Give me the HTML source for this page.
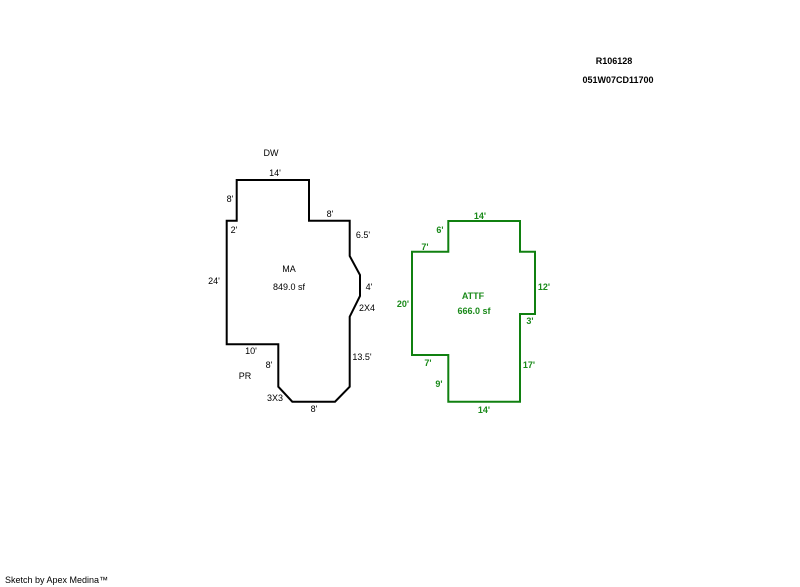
<!DOCTYPE html>
<html><head><meta charset="utf-8"><style>
html,body{margin:0;padding:0;background:#fff;width:800px;height:587px;overflow:hidden}
svg{display:block}
text{font-family:"Liberation Sans",Arial,sans-serif;font-size:9px}
.g{fill:#1a8a1a;font-weight:bold}
.b{font-weight:bold}
</style></head><body>
<svg width="800" height="587" viewBox="0 0 800 587">
<polygon points="236.7,180 309,180 309,220.7 349.7,220.7 349.7,256 360,275 360,296 349.7,316.7 349.7,386.7 335,401.7 292.3,401.7 278.3,386.7 278.3,344.3 226.7,344.3 226.7,220.7 236.7,220.7" fill="none" stroke="#000" stroke-width="2"/>
<polygon points="448.3,221 520,221 520,251.7 535,251.7 535,314 520,314 520,401.7 448.3,401.7 448.3,355 412,355 412,251.7 448.3,251.7" fill="none" stroke="#108010" stroke-width="2"/>
<g text-anchor="middle">
<text x="614" y="64" class="b">R106128</text>
<text x="618" y="83" class="b">051W07CD11700</text>
<text x="271" y="156">DW</text>
<text x="275" y="176">14'</text>
<text x="230" y="202">8'</text>
<text x="234" y="233">2'</text>
<text x="330" y="217">8'</text>
<text x="363" y="238">6.5'</text>
<text x="369" y="290">4'</text>
<text x="367" y="311">2X4</text>
<text x="214" y="284">24'</text>
<text x="289" y="272">MA</text>
<text x="289" y="290">849.0 sf</text>
<text x="251" y="354">10'</text>
<text x="269" y="368">8'</text>
<text x="362" y="360">13.5'</text>
<text x="245" y="379">PR</text>
<text x="275" y="401">3X3</text>
<text x="314" y="412">8'</text>
<text x="480" y="219" class="g">14'</text>
<text x="440" y="233" class="g">6'</text>
<text x="425" y="250" class="g">7'</text>
<text x="544" y="290" class="g">12'</text>
<text x="403" y="307" class="g">20'</text>
<text x="473" y="299" class="g">ATTF</text>
<text x="474" y="314" class="g">666.0 sf</text>
<text x="530" y="324" class="g">3'</text>
<text x="428" y="366" class="g">7'</text>
<text x="529" y="368" class="g">17'</text>
<text x="439" y="387" class="g">9'</text>
<text x="484" y="413" class="g">14'</text>
</g>
<text x="5" y="583">Sketch by Apex Medina™</text>
</svg>
</body></html>
